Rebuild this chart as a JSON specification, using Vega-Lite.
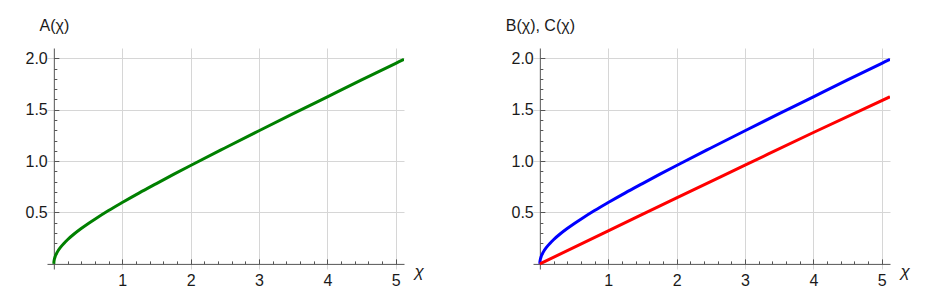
{
  "$schema": "https://vega.github.io/schema/vega-lite/v6.json",
  "background": "white",
  "padding": {"left": 24, "top": 17, "right": 5, "bottom": 5},
  "spacing": 81,
  "datasets": {
    "A": [
      {"chi": 0, "value": 0},
      {"chi": 0.001, "value": 0.016},
      {"chi": 0.005, "value": 0.036},
      {"chi": 0.01, "value": 0.051},
      {"chi": 0.02, "value": 0.072},
      {"chi": 0.03, "value": 0.088},
      {"chi": 0.05, "value": 0.114},
      {"chi": 0.1, "value": 0.163},
      {"chi": 0.15, "value": 0.201},
      {"chi": 0.2, "value": 0.235},
      {"chi": 0.3, "value": 0.293},
      {"chi": 0.4, "value": 0.344},
      {"chi": 0.5, "value": 0.391},
      {"chi": 0.6, "value": 0.435},
      {"chi": 0.8, "value": 0.519},
      {"chi": 1.0, "value": 0.597},
      {"chi": 1.25, "value": 0.691},
      {"chi": 1.5, "value": 0.781},
      {"chi": 1.75, "value": 0.870},
      {"chi": 2.0, "value": 0.957},
      {"chi": 2.5, "value": 1.127},
      {"chi": 3.0, "value": 1.295},
      {"chi": 3.5, "value": 1.461},
      {"chi": 4.0, "value": 1.625},
      {"chi": 4.5, "value": 1.789},
      {"chi": 5.0, "value": 1.951},
      {"chi": 5.12, "value": 1.99}
    ],
    "BC": [
      {"chi": 0, "value": 0, "series": "B"},
      {"chi": 0.001, "value": 0.016, "series": "B"},
      {"chi": 0.005, "value": 0.036, "series": "B"},
      {"chi": 0.01, "value": 0.051, "series": "B"},
      {"chi": 0.02, "value": 0.072, "series": "B"},
      {"chi": 0.03, "value": 0.088, "series": "B"},
      {"chi": 0.05, "value": 0.114, "series": "B"},
      {"chi": 0.1, "value": 0.163, "series": "B"},
      {"chi": 0.15, "value": 0.201, "series": "B"},
      {"chi": 0.2, "value": 0.235, "series": "B"},
      {"chi": 0.3, "value": 0.293, "series": "B"},
      {"chi": 0.4, "value": 0.344, "series": "B"},
      {"chi": 0.5, "value": 0.391, "series": "B"},
      {"chi": 0.6, "value": 0.435, "series": "B"},
      {"chi": 0.8, "value": 0.519, "series": "B"},
      {"chi": 1.0, "value": 0.597, "series": "B"},
      {"chi": 1.25, "value": 0.691, "series": "B"},
      {"chi": 1.5, "value": 0.781, "series": "B"},
      {"chi": 1.75, "value": 0.870, "series": "B"},
      {"chi": 2.0, "value": 0.957, "series": "B"},
      {"chi": 2.5, "value": 1.127, "series": "B"},
      {"chi": 3.0, "value": 1.295, "series": "B"},
      {"chi": 3.5, "value": 1.461, "series": "B"},
      {"chi": 4.0, "value": 1.625, "series": "B"},
      {"chi": 4.5, "value": 1.789, "series": "B"},
      {"chi": 5.0, "value": 1.951, "series": "B"},
      {"chi": 5.12, "value": 1.99, "series": "B"},
      {"chi": 0, "value": 0, "series": "C"},
      {"chi": 1, "value": 0.32, "series": "C"},
      {"chi": 2, "value": 0.642, "series": "C"},
      {"chi": 3, "value": 0.960, "series": "C"},
      {"chi": 4, "value": 1.278, "series": "C"},
      {"chi": 5.12, "value": 1.625, "series": "C"}
    ]
  },
  "config": {
    "view": {"stroke": null},
    "font": "Liberation Sans",
    "axis": {
      "domainColor": "#555555",
      "domainWidth": 1,
      "tickColor": "#555555",
      "tickWidth": 1,
      "gridColor": "#d6d6d6",
      "gridWidth": 1,
      "labelFont": "Liberation Sans",
      "labelFontSize": 16,
      "labelColor": "#1a1a1a",
      "titleFont": "Liberation Sans",
      "titleFontSize": 16,
      "titleFontWeight": "normal",
      "titleColor": "#1a1a1a",
      "titleAngle": 0,
      "labelOverlap": false,
      "labelFlush": false
    }
  },
  "hconcat": [
    {
      "width": 357,
      "height": 221,
      "data": {"name": "A"},
      "mark": {"type": "line", "color": "#008000", "strokeWidth": 3, "clip": true, "interpolate": "monotone"},
      "encoding": {
        "x": {
          "field": "chi", "type": "quantitative",
          "scale": {"domain": [-0.1, 5.12], "nice": false, "zero": false},
          "axis": {
            "title": "χ",
            "values": [0.2, 0.4, 0.6, 0.8, 1, 1.2, 1.4, 1.6, 1.8, 2, 2.2, 2.4, 2.6, 2.8, 3, 3.2, 3.4, 3.6, 3.8, 4, 4.2, 4.4, 4.6, 4.8, 5],
            "labelExpr": "datum.value % 1 === 0 ? format(datum.value, 'd') : ''",
            "offset": -5.1,
            "tickSize": {"condition": {"test": "datum.value % 1 !== 0", "value": -3}, "value": -5},
            "gridOpacity": {"condition": {"test": "datum.value % 1 !== 0", "value": 0}, "value": 1},
            "labelPadding": 14,
            "titleAlign": "left",
            "titleBaseline": "middle",
            "titleX": 367,
            "titleY": 8,
            "titleFontSize": 17,
            "titleFontStyle": "italic"
          }
        },
        "y": {
          "field": "value", "type": "quantitative",
          "scale": {"domain": [-0.05, 2.1], "nice": false, "zero": false},
          "axis": {
            "title": "A(χ)",
            "values": [0.1, 0.2, 0.3, 0.4, 0.5, 0.6, 0.7, 0.8, 0.9, 1.0, 1.1, 1.2, 1.3, 1.4, 1.5, 1.6, 1.7, 1.8, 1.9, 2.0],
            "labelExpr": "abs(datum.value * 2 - round(datum.value * 2)) < 1e-9 ? format(datum.value, '.1f') : ''",
            "offset": -6.84,
            "tickSize": {"condition": {"test": "abs(datum.value * 2 - round(datum.value * 2)) > 1e-9", "value": -3}, "value": -5},
            "gridOpacity": {"condition": {"test": "abs(datum.value * 2 - round(datum.value * 2)) > 1e-9", "value": 0}, "value": 1},
            "labelPadding": 11.6,
            "titleAlign": "center",
            "titleBaseline": "middle",
            "titleX": 0,
            "titleY": -23
          }
        }
      }
    },
    {
      "width": 357,
      "height": 221,
      "data": {"name": "BC"},
      "mark": {"type": "line", "strokeWidth": 3, "clip": true, "interpolate": "monotone"},
      "encoding": {
        "x": {
          "field": "chi", "type": "quantitative",
          "scale": {"domain": [-0.1, 5.12], "nice": false, "zero": false},
          "axis": {
            "title": "χ",
            "values": [0.2, 0.4, 0.6, 0.8, 1, 1.2, 1.4, 1.6, 1.8, 2, 2.2, 2.4, 2.6, 2.8, 3, 3.2, 3.4, 3.6, 3.8, 4, 4.2, 4.4, 4.6, 4.8, 5],
            "labelExpr": "datum.value % 1 === 0 ? format(datum.value, 'd') : ''",
            "offset": -5.1,
            "tickSize": {"condition": {"test": "datum.value % 1 !== 0", "value": -3}, "value": -5},
            "gridOpacity": {"condition": {"test": "datum.value % 1 !== 0", "value": 0}, "value": 1},
            "labelPadding": 14,
            "titleAlign": "left",
            "titleBaseline": "middle",
            "titleX": 367,
            "titleY": 8,
            "titleFontSize": 17,
            "titleFontStyle": "italic"
          }
        },
        "y": {
          "field": "value", "type": "quantitative",
          "scale": {"domain": [-0.05, 2.1], "nice": false, "zero": false},
          "axis": {
            "title": "B(χ), C(χ)",
            "values": [0.1, 0.2, 0.3, 0.4, 0.5, 0.6, 0.7, 0.8, 0.9, 1.0, 1.1, 1.2, 1.3, 1.4, 1.5, 1.6, 1.7, 1.8, 1.9, 2.0],
            "labelExpr": "abs(datum.value * 2 - round(datum.value * 2)) < 1e-9 ? format(datum.value, '.1f') : ''",
            "offset": -6.84,
            "tickSize": {"condition": {"test": "abs(datum.value * 2 - round(datum.value * 2)) > 1e-9", "value": -3}, "value": -5},
            "gridOpacity": {"condition": {"test": "abs(datum.value * 2 - round(datum.value * 2)) > 1e-9", "value": 0}, "value": 1},
            "labelPadding": 11.6,
            "titleAlign": "center",
            "titleBaseline": "middle",
            "titleX": 0,
            "titleY": -23
          }
        },
        "color": {"field": "series", "type": "nominal", "scale": {"domain": ["B", "C"], "range": ["#0000ff", "#ff0000"]}, "legend": null}
      }
    }
  ]
}
